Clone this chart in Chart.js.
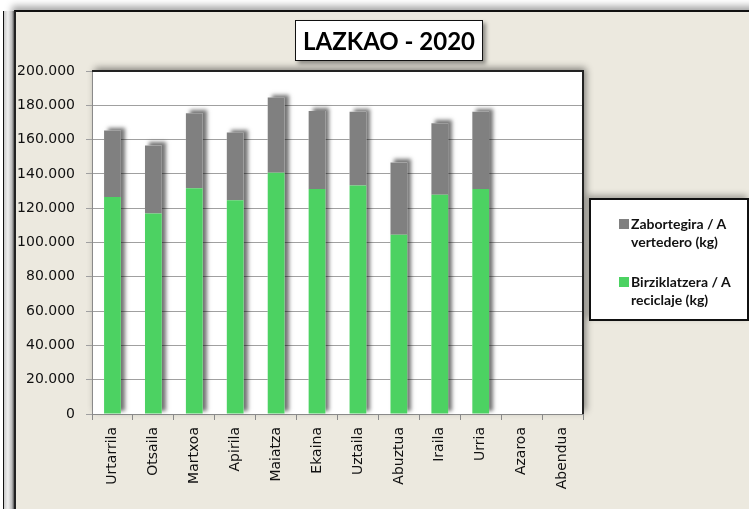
<!DOCTYPE html>
<html>
<head>
<meta charset="utf-8">
<script src="https://cdn.jsdelivr.net/npm/chart.js@4.4.1/dist/chart.umd.min.js"></script>
<style>
  body { margin: 0; background: #fff; width: 749px; height: 509px; overflow: hidden; position: relative; }
  .side { position: absolute; left: 3px; top: 11px; width: 10px; height: 500px; border-left: 1px solid #111;
          background: linear-gradient(to right, #c8c8c8, #fafafa 40%, #e0e0e0 80%, #777); }
  .frame { position: absolute; left: 14px; top: 10px; width: 760px; height: 520px; background: #ECE9DF;
           border-top: 2px solid #111; border-left: 2px solid #222; box-shadow: -2px -4px 7px rgba(0,0,0,0.35); }
  #chart { position: absolute; left: 0; top: 0; }
  .title { position: absolute; left: 295px; top: 20px; width: 186px; height: 39px; background: #fff;
           border: 1.5px solid #111; box-shadow: 3px 3px 4px rgba(0,0,0,0.4);
           font: bold 24px Lato, sans-serif; color: #000; text-align: center; line-height: 40px; }
  .legend { position: absolute; left: 589px; top: 198px; width: 156px; height: 119px; background: #fff;
            border: 2px solid #111; box-shadow: -2px -3px 6px rgba(0,0,0,0.3);
            font: bold 14px Lato, sans-serif; color: #111; }
  .item { position: absolute; left: 28px; width: 125px; line-height: 17.5px; }
  .sw { position: absolute; left: 0; top: 4px; width: 10px; height: 10px; }
  .txt { position: absolute; left: 12px; width: 120px; white-space: nowrap; }
</style>
</head>
<body>
<div class="side"></div>
<div class="frame"></div>
<canvas id="chart" width="749" height="509"></canvas>
<div class="title">LAZKAO - 2020</div>
<div class="legend" id="legend"></div>
<script>
var MONTHS = ['Urtarrila', 'Otsaila', 'Martxoa', 'Apirila', 'Maiatza', 'Ekaina',
  'Uztaila', 'Abuztua', 'Iraila', 'Urria', 'Azaroa', 'Abendua'];
var RECICLAJE = [126600, 116900, 131600, 124600, 140700, 131200, 133300, 104500, 127900, 131200, null, null];
var VERTEDERO = [38700, 39700, 43800, 39500, 43800, 45500, 43000, 42200, 41700, 45100, null, null];
var LABEL_VERTEDERO = ['Zabortegira / A', 'vertedero (kg)'];
var LABEL_RECICLAJE = ['Birziklatzera / A', 'reciclaje (kg)'];

function fmtKg(n) {
  return String(n).replace(/\B(?=(\d{3})+(?!\d))/g, '.');
}

// white plot area with a soft shadow, dark border on top/right, shadows under the stacked bars
var plotBg = {
  id: 'plotBg',
  beforeDraw: function (chart) {
    var a = chart.chartArea, ctx = chart.ctx;
    ctx.save();
    ctx.shadowColor = 'rgba(0,0,0,0.45)';
    ctx.shadowBlur = 7;
    ctx.shadowOffsetX = 3;
    ctx.shadowOffsetY = -3;
    ctx.fillStyle = '#fff';
    ctx.fillRect(a.left, a.top, a.right - a.left, a.bottom - a.top);
    ctx.restore();
  },
  beforeDatasetsDraw: function (chart) {
    var ctx = chart.ctx;
    var low = chart.getDatasetMeta(0).data, high = chart.getDatasetMeta(1).data;
    ctx.save();
    ctx.shadowColor = 'rgba(0,0,0,0.55)';
    ctx.shadowBlur = 4;
    ctx.shadowOffsetX = 4;
    ctx.shadowOffsetY = -3;
    ctx.fillStyle = '#fff';
    for (var i = 0; i < low.length; i++) {
      if (RECICLAJE[i] == null) continue;
      var b = low[i], t = high[i];
      ctx.fillRect(b.x - b.width / 2, t.y, b.width, b.base - t.y);
    }
    ctx.restore();
  },
  afterDraw: function (chart) {
    var a = chart.chartArea, ctx = chart.ctx;
    ctx.save();
    ctx.strokeStyle = '#222';
    ctx.lineWidth = 2;
    ctx.beginPath();
    ctx.moveTo(a.left, a.top);
    ctx.lineTo(a.right, a.top);
    ctx.lineTo(a.right, a.bottom);
    ctx.stroke();
    ctx.restore();
  }
};

var chart = new Chart(document.getElementById('chart'), {
  type: 'bar',
  data: {
    labels: MONTHS,
    datasets: [
      { label: LABEL_RECICLAJE.join(' '), data: RECICLAJE, backgroundColor: '#4CD262',
        categoryPercentage: 1, barPercentage: 0.41 },
      { label: LABEL_VERTEDERO.join(' '), data: VERTEDERO, backgroundColor: '#808080',
        categoryPercentage: 1, barPercentage: 0.41 },
    ],
  },
  options: {
    responsive: false,
    animation: false,
    layout: { padding: { left: 0, right: 166, top: 71, bottom: 0 } },
    plugins: { legend: { display: false }, tooltip: { enabled: false } },
    scales: {
      x: {
        stacked: true,
        afterFit: function (s) { s.height = 95; },
        grid: { drawOnChartArea: false, drawTicks: true, tickLength: 6, color: '#8a8a8a', offset: true },
        border: { color: '#8a8a8a', width: 1 },
        ticks: { color: '#111', font: { family: "'DejaVu Sans'", size: 14 }, minRotation: 90, maxRotation: 90,
          padding: 7, autoSkip: false },
      },
      y: {
        stacked: true,
        min: 0,
        max: 200000,
        afterFit: function (s) { s.width = 92; },
        grid: { color: '#a0a0a0', tickLength: 6 },
        border: { color: '#8a8a8a', width: 1 },
        ticks: { stepSize: 20000, color: '#111', padding: 11, font: { family: "'DejaVu Sans'", size: 14 },
          callback: function (v) { return fmtKg(v); } },
      },
    },
  },
  plugins: [plotBg],
});

// legend: vertedero first, then reciclaje
var legend = document.getElementById('legend');
var items = [
  { lines: LABEL_VERTEDERO, color: chart.data.datasets[1].backgroundColor, top: 15 },
  { lines: LABEL_RECICLAJE, color: chart.data.datasets[0].backgroundColor, top: 73 },
];
for (var i = 0; i < items.length; i++) {
  var it = items[i];
  var div = document.createElement('div');
  div.className = 'item';
  div.style.top = it.top + 'px';
  div.innerHTML = '<span class="sw" style="background:' + it.color + '"></span>' +
    '<span class="txt">' + it.lines.join('<br>') + '</span>';
  legend.appendChild(div);
}
</script>
</body>
</html>
